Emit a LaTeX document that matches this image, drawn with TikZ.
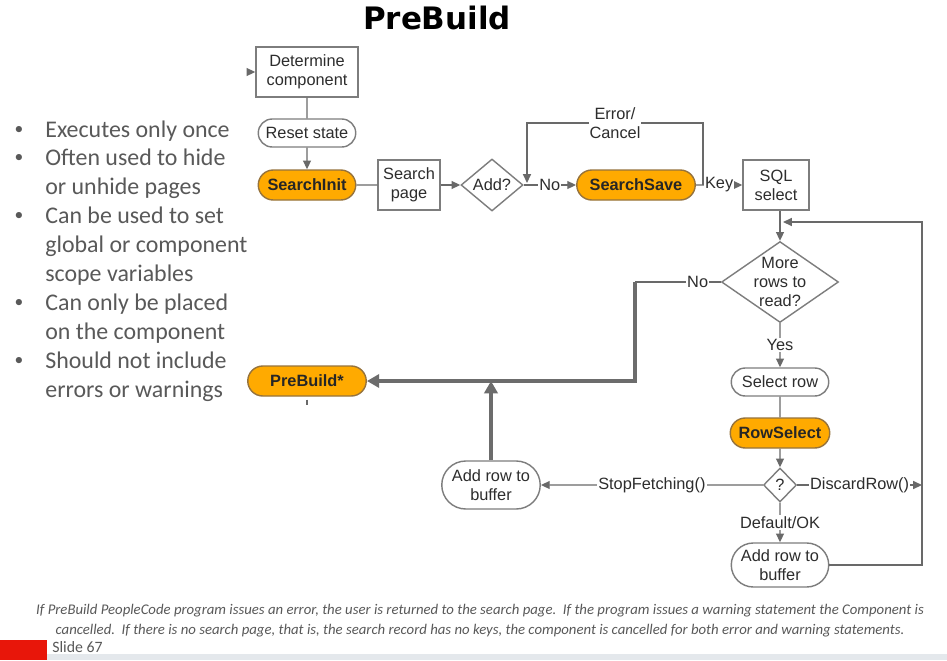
\documentclass[tikz,border=0pt]{standalone}
\usepackage{fontspec}
\newfontfamily\diagfont{Liberation Sans}
\newfontfamily\slidefont{Carlito}
\newfontfamily\headfont{DejaVu Sans}
\usetikzlibrary{shapes.geometric, shapes.misc, arrows.meta, positioning}

\definecolor{hotfill}{RGB}{255,170,0}
\definecolor{hotedge}{RGB}{150,115,60}
\definecolor{boxgray}{RGB}{125,125,125}
\definecolor{linegray}{RGB}{105,105,105}
\definecolor{fatgray}{RGB}{108,108,108}
\definecolor{inkgray}{RGB}{45,45,45}
\definecolor{bulgray}{RGB}{89,89,89}
\definecolor{slidered}{RGB}{232,22,10}
\definecolor{barblue}{RGB}{228,232,236}

\newcommand{\diagtext}{\diagfont\fontsize{9.3}{10.8}\selectfont}
\newcommand{\bultext}{\slidefont\fontsize{13.6}{16.4}\selectfont}

\begin{document}
\begin{tikzpicture}[
    x=0.02cm, y=-0.02cm,
    box/.style={rectangle, draw=boxgray, line width=0.8pt, fill=white, text=inkgray, font=\diagtext, align=center, inner sep=1pt},
    term/.style={rounded rectangle, draw=boxgray, line width=0.8pt, fill=white, text=inkgray, font=\diagtext, align=center, inner sep=1pt},
    hot/.style={term, fill=hotfill, draw=hotedge, font=\diagtext\bfseries, text=black!85},
    dec/.style={diamond, draw=boxgray, line width=0.8pt, fill=white, text=inkgray, font=\diagtext, align=center, inner sep=-3pt},
    conn/.style={-{Triangle[length=5pt,width=4.5pt]}, line width=0.8pt, draw=linegray},
    link/.style={line width=0.8pt, draw=linegray},
    fat/.style={-{Triangle[length=7pt,width=7.5pt]}, line width=2.3pt, draw=fatgray},
    lbl/.style={fill=white, inner sep=0.6pt, font=\diagtext, text=inkgray, align=center},
    bul/.style={anchor=north west, align=left, inner sep=0pt, font=\bultext, text=bulgray},
    dot/.style={inner sep=0pt, font=\slidefont\fontsize{10}{10}\selectfont, text=bulgray}
]

% White Background
\fill[white] (0,0) rectangle (947,660);
\useasboundingbox (0,0) rectangle (947,660);

% ==================== TITLE ====================
\node[font=\headfont\bfseries\fontsize{17.6}{20}\selectfont] (title) at (437,18) {PreBuild};

% ==================== BULLETS ====================
\node[dot] (d1) at (19,130) {\textbullet};
\node[bul] (it1) at (45,117) {\strut Executes only once};
\node[dot] (d2) at (19,158) {\textbullet};
\node[bul] (it2) at (45,145) {\strut Often used to hide\\ or unhide pages};
\node[dot] (d3) at (19,216) {\textbullet};
\node[bul] (it3) at (45,203) {\strut Can be used to set\\ global or component\\ scope variables};
\node[dot] (d4) at (19,303) {\textbullet};
\node[bul] (it4) at (45,290) {\strut Can only be placed\\ on the component};
\node[dot] (d5) at (19,361) {\textbullet};
\node[bul] (it5) at (45,348) {\strut Should not include\\ errors or warnings};

% ==================== SEARCH ROW ====================
\node[box, minimum width=2.04cm, minimum height=1cm] (det) at (307,72) {Determine\\component};
\coordinate (det_in) at (247,72);
\draw[conn] (det_in) -- (det);

\node[term, minimum width=2.02cm, minimum height=0.56cm] (reset) at (307,133) {Reset state};
\draw[link] (det) -- (reset);

\node[hot, minimum width=2.02cm, minimum height=0.6cm] (sinit) at (307,185) {SearchInit};
\draw[conn] (reset) -- (sinit);

\node[box, minimum width=1.24cm, minimum height=1cm] (spage) at (409,185) {Search\\page};
\draw[link] (sinit) -- (spage);

\node[dec, minimum width=1.24cm, minimum height=1.04cm] (add) at (492,185) {Add?};
\draw[conn] (spage) -- (add);

\node[hot, minimum width=2.44cm, minimum height=0.6cm] (ssave) at (636,185) {SearchSave};
\draw[conn] (add) -- node[lbl] {No} (ssave);

\node[box, minimum width=1.32cm, minimum height=1cm] (sql) at (776,185) {SQL\\select};
\draw[conn] (ssave) -- node[lbl] {Key} (sql);

% Error loop back
\coordinate (err_from) at (703,185);
\coordinate (err_to) at (527,183);
\draw[conn] (err_from) -- ++(0,-62) -| node[lbl, pos=0.25] {Error/\\Cancel} (err_to);

% ==================== FETCH LOOP ====================
\node[dec, minimum width=2.34cm, minimum height=1.6cm] (more) at (780,282) {More\\rows to\\read?};
\draw[conn] (more |- sql.south) -- (more);

\node[term, minimum width=2.02cm, minimum height=0.56cm] (selrow) at (780,382) {Select row};
\draw[conn] (more) -- node[lbl] {Yes} (selrow);

\node[hot, minimum width=2.06cm, minimum height=0.6cm] (rowsel) at (780,433) {RowSelect};
\draw[link] (selrow) -- (rowsel);

\node[dec, minimum width=0.66cm, minimum height=0.68cm] (q) at (780,485) {?};
\draw[conn] (rowsel) -- (q);

\node[term, minimum width=2.02cm, minimum height=0.88cm] (buf2) at (780,565) {Add row to\\buffer};
\draw[conn] (q) -- node[lbl] {Default/OK} (buf2);

% Right rail
\coordinate (rail_top) at (922,222);
\coordinate (merge) at (783,222);
\draw[conn] (buf2.east) -| (rail_top) -- (merge);
\coordinate (rail_mid) at (922,485);
\draw[conn] (q) -- node[lbl] {DiscardRow()} (rail_mid);

% Stop fetching
\node[term, minimum width=2.04cm, minimum height=0.96cm] (buf1) at (491,485) {Add row to\\buffer};
\draw[conn] (q) -- node[lbl] {StopFetching()} (buf1);

% ==================== PREBUILD ====================
\node[hot, minimum width=2.44cm, minimum height=0.6cm] (pb) at (307,381) {PreBuild*};
\draw[link] (pb.south) ++(0,3) -- ++(0,5);

\coordinate (no_turn) at (635,282);
\draw[link] (more.west) -- node[lbl, pos=0.27] {No} (no_turn);
\draw[fat] (no_turn) |- (pb.east);
\draw[fat] (buf1.north) -- (buf1.north |- pb.east);

% ==================== FOOTER ====================
\node[font=\slidefont\itshape\fontsize{8.4}{11.3}\selectfont, text=bulgray, align=center] (note) at (480,621)
  {If PreBuild PeopleCode program issues an error, the user is returned to the search page.\ \ If the program issues a warning statement the Component is\\
   cancelled.\ \ If there is no search page, that is, the search record has no keys, the component is cancelled for both error and warning statements.};
\fill[barblue] (47,654) rectangle (947,660);
\fill[slidered] (0,640) rectangle (47,660);
\node[anchor=base west, inner sep=0pt, font=\slidefont\fontsize{9}{10}\selectfont, text=bulgray] (slide) at (52,652) {Slide 67};

\end{tikzpicture}
\end{document}
